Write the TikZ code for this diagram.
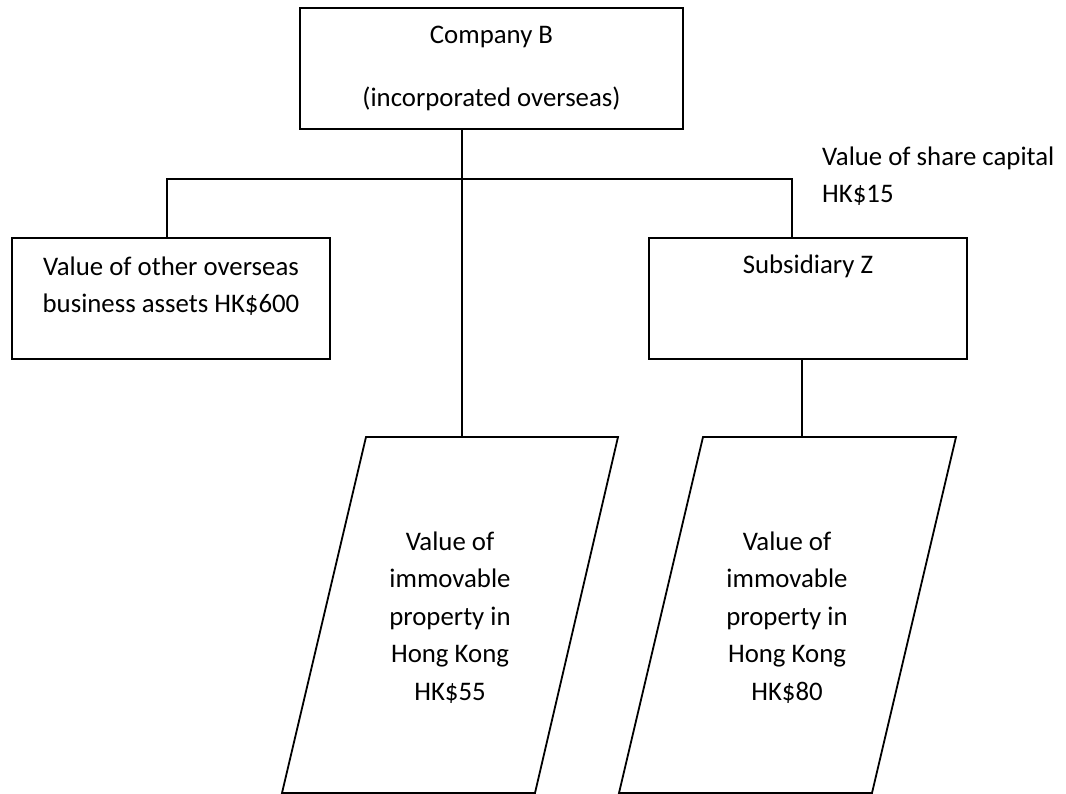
\documentclass[tikz,border=0pt]{standalone}
\usepackage{fontspec}
\setmainfont{Carlito}
\begin{document}
\begin{tikzpicture}[x=1pt,y=-1pt,line join=miter,
  every node/.style={font=\fontsize{26.8}{37.5}\selectfont},
  box/.style={draw=black,line width=1.8pt,rectangle,inner sep=0pt},
  lbl/.style={align=center,inner sep=0pt},
  conn/.style={draw=black,line width=1.8pt}]
\useasboundingbox (0,0) rectangle (1066,794);
% Company B
\node[box,minimum width=383,minimum height=121,align=center] (cb) at (491.5,68.5)
  {Company B\\[25.5pt](incorporated overseas)};
% other assets
\node[box,minimum width=318,minimum height=121] (assets) at (171,298.5) {};
\node[lbl] (assetsT) at (171,286) {Value of other overseas\\business assets HK\$600};
% subsidiary Z
\node[box,minimum width=318,minimum height=121] (sub) at (808,298.5) {};
\node[lbl] (subT) at (808,266) {Subsidiary Z};
% share capital label
\node[align=left,anchor=west,inner sep=0pt] (share) at (822,176) {Value of share capital\\HK\$15};
% parallelograms
\coordinate (p1a) at (366,437); \coordinate (p1b) at (618,437);
\coordinate (p1c) at (535,793); \coordinate (p1d) at (282,793);
\draw[conn] (p1a) -- (p1b) -- (p1c) -- (p1d) -- cycle;
\node[lbl] (p1) at (450,617.5) {Value of\\immovable\\property in\\Hong Kong\\HK\$55};
\coordinate (p2a) at (703,437); \coordinate (p2b) at (956,437);
\coordinate (p2c) at (872,793); \coordinate (p2d) at (619,793);
\draw[conn] (p2a) -- (p2b) -- (p2c) -- (p2d) -- cycle;
\node[lbl] (p2) at (787,617.5) {Value of\\immovable\\property in\\Hong Kong\\HK\$80};
% connectors
\coordinate (p1top) at (462,437);
\coordinate (p2top) at (802,437);
\coordinate (hl) at (167,179);
\coordinate (hr) at (792,179);
\draw[conn] (cb.south -| p1top) -- (p1top);
\draw[conn] (hl |- assets.north) -- (hl) -- (hr) -- (hr |- sub.north);
\draw[conn] (sub.south -| p2top) -- (p2top);
\end{tikzpicture}
\end{document}
